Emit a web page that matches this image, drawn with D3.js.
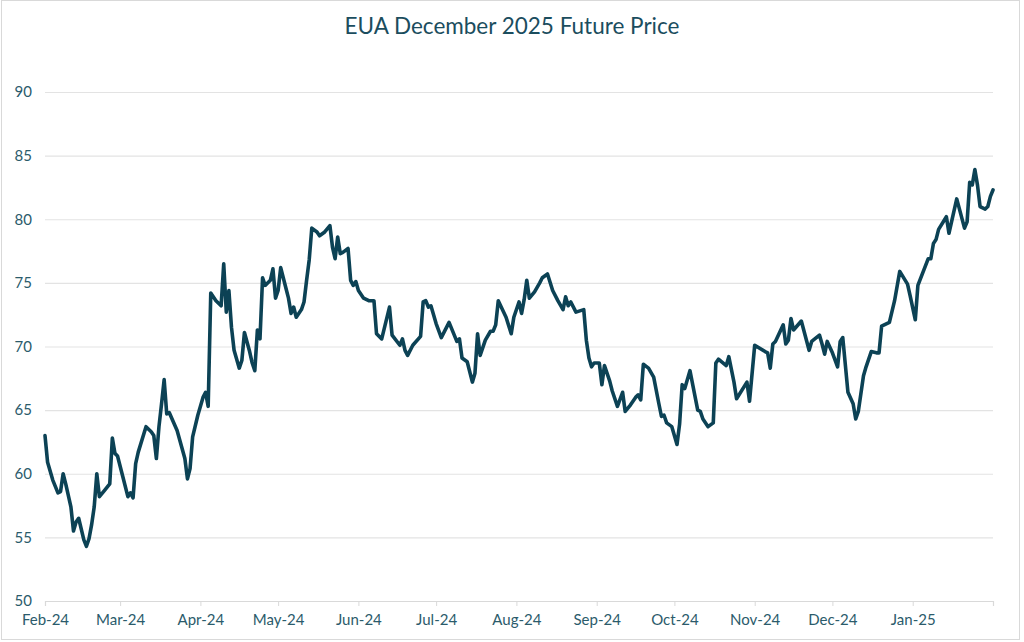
<!DOCTYPE html>
<html>
<head>
<meta charset="utf-8">
<script src="https://cdn.jsdelivr.net/npm/d3@7"></script>
<style>
  html, body { margin: 0; padding: 0; background: #fff; }
  #chart { width: 1024px; height: 642px; }
  text { font-family: Lato, "Open Sans", sans-serif; }
</style>
</head>
<body>
<div id="chart"></div>
<script>
// -----------------------------
// DATA
// -----------------------------
const dates = [
  "2024-02-01","2024-02-02","2024-02-04","2024-02-06","2024-02-07","2024-02-08","2024-02-09","2024-02-11",
  "2024-02-12","2024-02-13","2024-02-14","2024-02-16","2024-02-17","2024-02-18","2024-02-19","2024-02-20",
  "2024-02-21","2024-02-22","2024-02-24","2024-02-26","2024-02-27","2024-02-28","2024-02-29","2024-03-02",
  "2024-03-04","2024-03-05","2024-03-06","2024-03-07","2024-03-08","2024-03-11","2024-03-13","2024-03-14",
  "2024-03-15","2024-03-16","2024-03-17","2024-03-18","2024-03-19","2024-03-20","2024-03-23","2024-03-26",
  "2024-03-27","2024-03-28","2024-03-29","2024-03-31","2024-04-02","2024-04-03","2024-04-04","2024-04-05",
  "2024-04-07","2024-04-09","2024-04-10","2024-04-11","2024-04-12","2024-04-13","2024-04-14","2024-04-16",
  "2024-04-17","2024-04-18","2024-04-20","2024-04-21","2024-04-22","2024-04-23","2024-04-24","2024-04-25",
  "2024-04-26","2024-04-28","2024-04-29","2024-04-30","2024-05-01","2024-05-02","2024-05-04","2024-05-05",
  "2024-05-06","2024-05-07","2024-05-08","2024-05-10","2024-05-11","2024-05-12","2024-05-13","2024-05-14",
  "2024-05-16","2024-05-17","2024-05-19","2024-05-21","2024-05-22","2024-05-23","2024-05-24","2024-05-25",
  "2024-05-26","2024-05-28","2024-05-29","2024-05-30","2024-05-31","2024-06-01","2024-06-03","2024-06-05",
  "2024-06-07","2024-06-08","2024-06-10","2024-06-13","2024-06-14","2024-06-17","2024-06-18","2024-06-19",
  "2024-06-20","2024-06-22","2024-06-25","2024-06-26","2024-06-27","2024-06-28","2024-06-29","2024-07-01",
  "2024-07-03","2024-07-06","2024-07-09","2024-07-10","2024-07-11","2024-07-13","2024-07-15","2024-07-16",
  "2024-07-17","2024-07-18","2024-07-20","2024-07-22","2024-07-23","2024-07-24","2024-07-25","2024-07-28",
  "2024-07-30","2024-07-31","2024-08-02","2024-08-03","2024-08-04","2024-08-05","2024-08-06","2024-08-08",
  "2024-08-10","2024-08-11","2024-08-13","2024-08-15","2024-08-17","2024-08-19","2024-08-20","2024-08-21",
  "2024-08-22","2024-08-24","2024-08-27","2024-08-28","2024-08-29","2024-08-30","2024-08-31","2024-09-02",
  "2024-09-03","2024-09-04","2024-09-06","2024-09-07","2024-09-09","2024-09-11","2024-09-12","2024-09-14",
  "2024-09-16","2024-09-17","2024-09-18","2024-09-19","2024-09-21","2024-09-23","2024-09-25","2024-09-26",
  "2024-09-27","2024-09-28","2024-09-30","2024-10-02","2024-10-03","2024-10-04","2024-10-05","2024-10-07",
  "2024-10-10","2024-10-11","2024-10-12","2024-10-14","2024-10-16","2024-10-17","2024-10-18","2024-10-21",
  "2024-10-22","2024-10-24","2024-10-25","2024-10-29","2024-10-30","2024-11-01","2024-11-05","2024-11-06",
  "2024-11-07","2024-11-08","2024-11-09","2024-11-12","2024-11-13","2024-11-14","2024-11-15","2024-11-16",
  "2024-11-19","2024-11-22","2024-11-23","2024-11-26","2024-11-27","2024-11-28","2024-11-29","2024-12-01",
  "2024-12-03","2024-12-04","2024-12-05","2024-12-07","2024-12-09","2024-12-10","2024-12-11","2024-12-13",
  "2024-12-14","2024-12-16","2024-12-18","2024-12-19","2024-12-20","2024-12-23","2024-12-25","2024-12-27",
  "2024-12-30","2024-12-31","2025-01-02","2025-01-03","2025-01-07","2025-01-08","2025-01-09","2025-01-10",
  "2025-01-11","2025-01-14","2025-01-15","2025-01-18","2025-01-21","2025-01-22","2025-01-23","2025-01-24",
  "2025-01-25","2025-01-26","2025-01-27","2025-01-29","2025-01-30","2025-01-31","2025-02-01"
];

const prices = [
  63.0, 60.9, 59.5, 58.5, 58.6, 60.0, 59.2, 57.4,
  55.5, 56.2, 56.5, 54.8, 54.3, 54.9, 56.0, 57.4,
  60.0, 58.2, 58.7, 59.2, 62.8, 61.6, 61.4, 59.8,
  58.2, 58.5, 58.1, 60.8, 61.7, 63.7, 63.3, 63.0,
  61.2, 63.7, 65.5, 67.4, 64.7, 64.8, 63.4, 61.2,
  59.6, 60.4, 62.9, 64.6, 66.0, 66.4, 65.3, 74.2,
  73.6, 73.2, 76.5, 72.7, 74.4, 71.5, 69.7, 68.3,
  68.9, 71.1, 69.6, 68.7, 68.1, 71.3, 70.6, 75.4,
  74.8, 75.2, 76.1, 73.8, 74.4, 76.2, 74.6, 73.8,
  72.6, 73.1, 72.3, 72.9, 73.5, 75.2, 76.8, 79.3,
  79.0, 78.7, 79.0, 79.5, 77.8, 76.9, 78.6, 77.3,
  77.4, 77.7, 75.2, 74.8, 75.1, 74.4, 73.8, 73.6,
  73.6, 71.0, 70.6, 73.1, 70.9, 70.1, 70.6, 69.7,
  69.3, 70.1, 70.8, 73.5, 73.6, 73.1, 73.2, 71.8,
  70.7, 71.9, 70.4, 70.6, 69.1, 68.8, 67.2, 67.9,
  71.0, 69.3, 70.5, 71.2, 71.2, 71.7, 73.6, 72.3,
  71.0, 72.3, 73.5, 72.6, 73.7, 75.2, 73.8, 74.3,
  75.0, 75.4, 75.7, 74.4, 73.6, 72.9, 73.9, 73.2,
  73.5, 72.7, 72.9, 70.5, 69.1, 68.4, 68.7, 68.7,
  67.0, 68.5, 67.3, 66.5, 65.3, 66.4, 64.9, 65.4,
  66.0, 66.2, 65.8, 68.6, 68.3, 67.6, 65.5, 64.5,
  64.6, 64.0, 63.7, 62.3, 63.9, 67.0, 66.7, 68.1,
  65.0, 64.9, 64.3, 63.7, 64.0, 68.7, 69.0, 68.5,
  69.2, 67.2, 65.9, 67.2, 65.7, 70.1, 69.6, 69.5,
  68.3, 70.2, 70.4, 71.7, 70.2, 70.5, 72.2, 71.3,
  72.0, 69.7, 70.4, 70.9, 70.2, 69.4, 70.4, 69.5,
  68.4, 70.4, 70.7, 66.4, 65.5, 64.3, 64.9, 67.7,
  68.4, 69.6, 69.5, 69.5, 71.6, 71.9, 73.6, 75.9,
  74.9, 74.0, 72.1, 74.8, 76.9, 76.9, 78.1, 78.4,
  79.2, 80.2, 78.9, 81.6, 79.3, 79.8, 82.9, 82.7,
  83.9, 82.7, 81.0, 80.8, 81.0, 81.8, 82.3
];

const yTicks = [50, 55, 60, 65, 70, 75, 80, 85, 90];
const monthTicks = [
  "2024-02-01","2024-03-01","2024-04-01","2024-05-01","2024-06-01","2024-07-01","2024-08-01",
  "2024-09-01","2024-10-01","2024-11-01","2024-12-01","2025-01-01","2025-02-01"
];
const title = "EUA December 2025 Future Price";

// -----------------------------
// SETUP
// -----------------------------
const width = 1024, height = 642;
const margin = { top: 92, right: 31, bottom: 41, left: 45 };
const plotWidth = width - margin.left - margin.right;
const plotHeight = height - margin.top - margin.bottom;

const parse = d3.timeParse("%Y-%m-%d");
const data = dates.map((d, i) => ({ date: parse(d), value: prices[i] }));
const ticks = monthTicks.map(parse);

const svg = d3.select("#chart").append("svg")
  .attr("width", width)
  .attr("height", height);

// outer frame
svg.append("rect")
  .attr("x", 1.5).attr("y", 0.5)
  .attr("width", 1018).attr("height", 639)
  .attr("fill", "none")
  .attr("stroke", "#d9d9d9");

svg.append("text")
  .attr("x", 512)
  .attr("y", 34)
  .attr("text-anchor", "middle")
  .attr("fill", "#1b4d5e")
  .style("font-size", "22.5px")
  .text(title);

const g = svg.append("g")
  .attr("transform", `translate(${margin.left},${margin.top})`);

const x = d3.scaleTime().domain([ticks[0], ticks[ticks.length - 1]]).range([0, plotWidth]);
const y = d3.scaleLinear().domain([50, 90]).range([plotHeight, 0]);

// -----------------------------
// Y AXIS + GRID
// -----------------------------
const yAxis = g.append("g")
  .call(d3.axisLeft(y).tickValues(yTicks).tickSize(-plotWidth).tickPadding(13));
yAxis.select(".domain").remove();
yAxis.selectAll(".tick line")
  .attr("stroke", "#e3e3e3")
  .attr("stroke-width", 1.2);
yAxis.selectAll(".tick text")
  .attr("fill", "#2b5b6b")
  .style("font-size", "15px");

// -----------------------------
// X AXIS
// -----------------------------
const fmt = d3.timeFormat("%b-%y");
const xAxis = g.append("g")
  .attr("transform", `translate(0,${plotHeight})`)
  .call(d3.axisBottom(x)
    .tickValues(ticks)
    .tickSize(5)
    .tickPadding(8)
    .tickFormat((d, i) => i === ticks.length - 1 ? "" : fmt(d)));
xAxis.select(".domain")
  .attr("stroke", "#d9d9d9")
  .attr("stroke-width", 1.2);
xAxis.selectAll(".tick line").attr("stroke", "#d9d9d9");
xAxis.selectAll(".tick text")
  .attr("fill", "#2b5b6b")
  .style("font-size", "15px");

// -----------------------------
// LINE
// -----------------------------
const line = d3.line()
  .x(d => x(d.date))
  .y(d => y(d.value));

g.append("path")
  .datum(data)
  .attr("fill", "none")
  .attr("stroke", "#0c4255")
  .attr("stroke-width", 3.6)
  .attr("stroke-linejoin", "round")
  .attr("stroke-linecap", "round")
  .attr("d", line);
</script>
</body>
</html>
